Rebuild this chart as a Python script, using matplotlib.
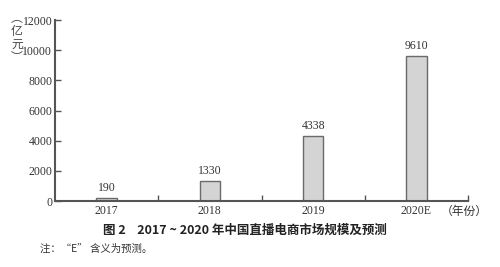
import matplotlib
matplotlib.use("Agg")
import matplotlib.pyplot as plt
import numpy as np

years = ["2017", "2018", "2019", "2020E"]
values = [190, 1330, 4338, 9610]
y_ticks = [0, 2000, 4000, 6000, 8000, 10000, 12000]

serif = ["Liberation Serif", "DejaVu Serif"]
cjk = ["Noto Sans CJK SC", "DejaVu Sans"]

fig = plt.figure(figsize=(5, 2.67), dpi=100)
ax = fig.add_axes([0.11, 0.247, 0.826, 0.678])

x = np.arange(len(years))
ax.bar(x, values, width=0.2, color="#d4d4d4", edgecolor="#6a6a6a", linewidth=1.0)
for xi, v in zip(x, values):
    ax.text(xi, v + 250, str(v), ha="center", va="bottom", fontsize=8.5, family=serif, color="#333333")

ax.set_xlim(-0.5, 3.5)
ax.set_ylim(0, 12000)
ax.set_yticks(y_ticks)
ax.set_yticklabels([str(t) for t in y_ticks], family=serif, fontsize=8.5, color="#333333")

# boundary ticks (no labels) and centred labels
ax.set_xticks([0.5, 1.5, 2.5, 3.5])
ax.set_xticklabels([])
ax.set_xticks(x, minor=True)
ax.set_xticklabels(years, minor=True, family=serif, fontsize=8.5, color="#333333")
ax.tick_params(axis="x", which="major", direction="in", length=4, width=1, color="#555555")
ax.tick_params(axis="x", which="minor", length=0, pad=3)
ax.tick_params(axis="y", direction="in", length=4, width=1, color="#555555", pad=2)

for s in ["top", "right"]:
    ax.spines[s].set_visible(False)
for s in ["left", "bottom"]:
    ax.spines[s].set_color("#555555")
    ax.spines[s].set_linewidth(1.5)

# vertical unit label
fig.text(0.034, 0.955, "︵\n亿\n元\n︶", ha="center", va="top", fontsize=8.5,
         family=cjk, color="#444444", linespacing=1.0)

fig.text(0.882, 0.21, "（年份）", ha="left", va="center", fontsize=8.5, family=cjk, color="#333333")

fig.text(0.49, 0.138, "图 2    2017 ~ 2020 年中国直播电商市场规模及预测", ha="center", va="center",
         fontsize=9, fontweight="bold", family=cjk, color="#222222")
fig.text(0.08, 0.068, "注：“E” 含义为预测。", ha="left", va="center", fontsize=7.5, family=cjk, color="#333333")

fig.savefig("out.png", dpi=100)
